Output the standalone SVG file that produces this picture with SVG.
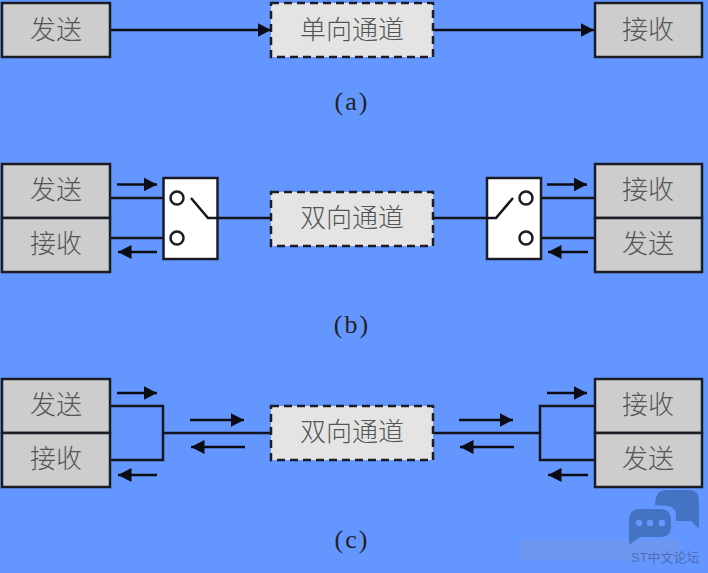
<svg xmlns="http://www.w3.org/2000/svg" width="708" height="573" viewBox="0 0 708 573">
<style>
.box{fill:#cdcdcd;stroke:#1c1c24;stroke-width:2.500}
.chan{fill:#e4e4e4;stroke:#1c1c24;stroke-width:2.500;stroke-dasharray:8 5}
.sw{fill:#fff;stroke:#1c1c24;stroke-width:2.500}
.pin{fill:#fff;stroke:#1c1c24;stroke-width:2.500}
.t{font-family:"Noto Sans CJK SC","Liberation Serif",serif;font-size:26px;font-weight:300;fill:#555;text-anchor:middle}
.cap{font-family:"Liberation Serif",serif;font-size:26px;fill:#222;text-anchor:middle;letter-spacing:2px}
.w{fill:none;stroke:#14141e;stroke-width:2.500}
.a{fill:none;stroke:#0c0c14;stroke-width:2.500;marker-end:url(#ah)}
</style>
<defs>
<marker id="ah" markerUnits="userSpaceOnUse" markerWidth="14" markerHeight="16" refX="13.500" refY="8" orient="auto"><path d="M0 1L13.500 8L0 15z" fill="#0c0c14"/></marker>
</defs>
<rect width="708" height="573" fill="#6496ff"/>
<g id="connectors">
<path class="a" d="M111 30H271"/><path class="a" d="M434 30H594"/>
<path class="w" d="M110 198H171M110 238H171M218 218H271M434 218H487M532 198H594M532 238H594"/>
<path class="a" d="M117 184.500H157"/><path class="a" d="M157 252H118"/>
<path class="a" d="M547 184.500H587"/><path class="a" d="M588 252H548"/>
<path class="w" d="M110 406H163V460H110M163 433H271"/>
<path class="w" d="M594 406H540V460H594M540 433H434"/>
<path class="a" d="M117 393H157"/><path class="a" d="M157 475H118"/>
<path class="a" d="M190 420H244"/><path class="a" d="M245 447H191"/>
<path class="a" d="M459 420H513"/><path class="a" d="M514 447H460"/>
<path class="a" d="M547 393H587"/><path class="a" d="M588 475H548"/>
</g>
<g id="a-send"><rect class="box" x="2" y="3" width="108" height="54"/><text class="t" x="56" y="39">发送</text></g>
<g id="a-channel"><rect class="chan" x="271" y="3" width="162" height="54"/><text class="t" x="352" y="39">单向通道</text></g>
<g id="a-recv"><rect class="box" x="595" y="3" width="107" height="54"/><text class="t" x="648" y="39">接收</text></g>
<text class="cap" x="352" y="110">(a)</text>
<g id="b-left"><rect class="box" x="2" y="164" width="108" height="54"/><text class="t" x="56" y="199">发送</text><rect class="box" x="2" y="218" width="108" height="54"/><text class="t" x="56" y="253">接收</text></g>
<g id="b-switch-left"><rect class="sw" x="163.500" y="178" width="54" height="81"/><circle class="pin" cx="177" cy="198" r="6.500"/><circle class="pin" cx="177" cy="238" r="6.500"/><path class="w" d="M191 198L208 218H218"/></g>
<g id="b-channel"><rect class="chan" x="271" y="192" width="162" height="54"/><text class="t" x="352" y="227">双向通道</text></g>
<g id="b-switch-right"><rect class="sw" x="487" y="178" width="54" height="81"/><circle class="pin" cx="526" cy="198" r="6.500"/><circle class="pin" cx="526" cy="238" r="6.500"/><path class="w" d="M513 198L496 218H487"/></g>
<g id="b-right"><rect class="box" x="595" y="164" width="107" height="54"/><text class="t" x="648" y="199">接收</text><rect class="box" x="595" y="218" width="107" height="54"/><text class="t" x="648" y="253">发送</text></g>
<text class="cap" x="352" y="333">(b)</text>
<g id="c-left"><rect class="box" x="2" y="379" width="108" height="54"/><text class="t" x="56" y="414">发送</text><rect class="box" x="2" y="433" width="108" height="54"/><text class="t" x="56" y="468">接收</text></g>
<g id="c-channel"><rect class="chan" x="271" y="406" width="162" height="54"/><text class="t" x="352" y="441">双向通道</text></g>
<g id="c-right"><rect class="box" x="595" y="379" width="107" height="54"/><text class="t" x="648" y="414">接收</text><rect class="box" x="595" y="433" width="107" height="54"/><text class="t" x="648" y="468">发送</text></g>
<text class="cap" x="352" y="548">(c)</text>
<g id="watermark">
<rect x="520" y="540" width="160" height="20" fill="#7a96dc" opacity="0.4"/>
<path d="M655 505Q655 490 667 490H690Q699 490 699 501V529L691 521H676V516Q676 506 666 506z" fill="#4573c3"/>
<path d="M629 520Q629 509 640 509H660Q671 509 671 520V526Q671 537 660 537H640L629 545z" fill="#4573c3"/>
<circle cx="639" cy="523" r="3.300" fill="#6496ff"/><circle cx="650" cy="523" r="3.300" fill="#6496ff"/><circle cx="662" cy="523" r="3.300" fill="#6496ff"/>
<text x="631" y="562" font-family="'Liberation Sans','Noto Sans CJK SC',sans-serif" font-size="13" fill="#4a6fb8">ST中文论坛</text>
</g>
</svg>
